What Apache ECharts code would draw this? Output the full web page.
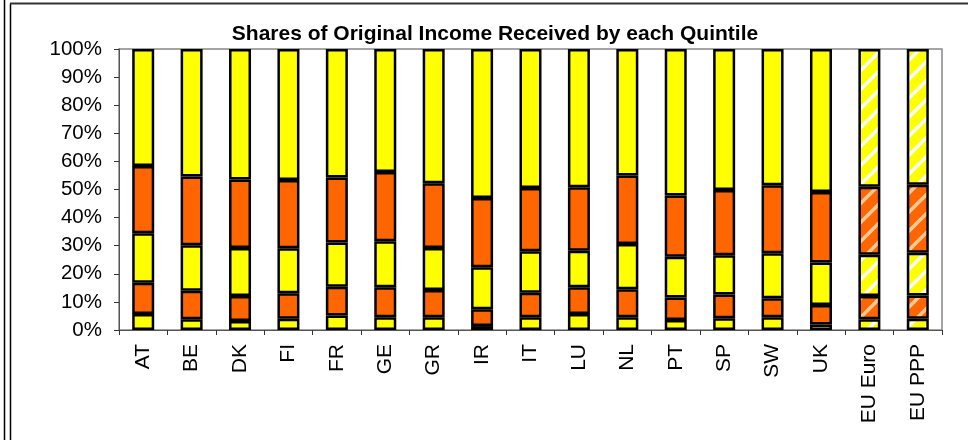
<!DOCTYPE html>
<html>
<head>
<meta charset="utf-8">
<script src="https://cdn.jsdelivr.net/npm/echarts@6/dist/echarts.min.js"></script>
<style>
  * { margin: 0; padding: 0; }
  body { background: #fff; }
  #chart { width: 968px; height: 440px; }
</style>
</head>
<body>
<div id="chart"></div>
<script>
// countries + EU aggregates
const categories = ["AT", "BE", "DK", "FI", "FR", "GE", "GR", "IR", "IT", "LU", "NL", "PT", "SP", "SW", "UK", "EU Euro", "EU PPP"];

// share of original income (%) for each quintile, bottom to top
const q1 = [5.7, 3.8, 3.2, 4.0, 5.2, 4.5, 4.5, 1.4, 4.5, 5.7, 4.5, 3.6, 4.2, 4.5, 2.0, 3.8, 4.0];
const q2 = [11.1, 10.2, 8.9, 9.1, 10.2, 10.7, 9.7, 6.0, 8.8, 9.5, 10.0, 8.0, 8.4, 6.8, 6.9, 8.3, 8.3];
const q3 = [17.6, 16.2, 17.1, 16.0, 15.7, 16.4, 15.0, 14.9, 14.7, 13.0, 16.1, 14.5, 14.0, 16.0, 15.1, 14.7, 15.2];
const q4 = [24.0, 24.4, 24.4, 24.3, 23.2, 24.6, 23.0, 24.7, 22.5, 22.6, 24.4, 21.8, 23.2, 24.2, 25.1, 24.2, 24.2];
const q5 = [41.6, 45.4, 46.4, 46.6, 45.7, 43.8, 47.8, 53.0, 49.5, 49.2, 45.0, 52.1, 50.2, 48.5, 50.9, 49.0, 48.3];

const yTicks = [0, 10, 20, 30, 40, 50, 60, 70, 80, 90, 100];

const YELLOW = "#ffff00";
const ORANGE = "#ff6600";

// hatched fill for the EU bars
function stripes(bg, fg) {
  const size = 19;
  const c = document.createElement("canvas");
  c.width = size;
  c.height = size;
  const ctx = c.getContext("2d");
  ctx.fillStyle = bg;
  ctx.fillRect(0, 0, size, size);
  ctx.strokeStyle = fg;
  ctx.lineWidth = 3.5;
  ctx.beginPath();
  ctx.moveTo(-size / 2, size / 2);
  ctx.lineTo(size / 2, -size / 2);
  ctx.moveTo(0, size);
  ctx.lineTo(size, 0);
  ctx.moveTo(size / 2, size * 1.5);
  ctx.lineTo(size * 1.5, size / 2);
  ctx.stroke();
  return { image: c, repeat: "repeat" };
}

const hatch = {};
hatch[YELLOW] = stripes(YELLOW, "#ffffff");
hatch[ORANGE] = stripes(ORANGE, "#ffc896");

function makeSeries(name, values, color) {
  return {
    name: name,
    type: "bar",
    stack: "total",
    barWidth: 22,
    itemStyle: { color: color, borderColor: "#000", borderWidth: 2.5 },
    data: values.map((v, i) =>
      categories[i].indexOf("EU") === 0
        ? { value: v, itemStyle: { color: hatch[color] } }
        : v
    ),
  };
}

const myChart = echarts.init(document.getElementById("chart"));

const option = {
  animation: false,
  title: {
    text: "Shares of Original Income Received by each Quintile",
    left: 490,
    textAlign: "center",
    top: 19,
    textStyle: {
      fontFamily: "Liberation Sans",
      fontWeight: "bold",
      fontSize: 21,
      color: "#000",
    },
  },
  grid: {
    left: 119,
    right: 26,
    top: 49,
    bottom: 110,
    containLabel: false,
    show: true,
    borderColor: "#888",
    borderWidth: 1.5,
  },
  xAxis: {
    type: "category",
    data: categories,
    axisLine: { lineStyle: { color: "#555", width: 1 } },
    axisTick: { show: true, length: 5, alignWithLabel: false, lineStyle: { color: "#333" } },
    axisLabel: {
      rotate: 90,
      margin: 14,
      fontFamily: "Liberation Sans",
      fontSize: 21,
      color: "#000",
      interval: 0,
    },
  },
  yAxis: {
    type: "value",
    min: yTicks[0],
    max: yTicks[yTicks.length - 1],
    interval: 10,
    splitLine: { show: false },
    axisLine: { show: true, lineStyle: { color: "#555", width: 1 } },
    axisTick: { show: true, length: 5, lineStyle: { color: "#333" } },
    axisLabel: {
      formatter: "{value}%",
      margin: 17,
      fontFamily: "Liberation Sans",
      fontSize: 20.5,
      color: "#000",
    },
  },
  series: [
    makeSeries("Q1", q1, YELLOW),
    makeSeries("Q2", q2, ORANGE),
    makeSeries("Q3", q3, YELLOW),
    makeSeries("Q4", q4, ORANGE),
    makeSeries("Q5", q5, YELLOW),
  ],
  graphic: [
    // outer frame lines of the original sheet
    { type: "line", shape: { x1: 4.5, y1: 0, x2: 4.5, y2: 440 }, style: { stroke: "#000", lineWidth: 1.5 } },
    { type: "line", shape: { x1: 10.5, y1: 3.5, x2: 10.5, y2: 440 }, style: { stroke: "#000", lineWidth: 1.5 } },
    { type: "line", shape: { x1: 10, y1: 3.5, x2: 968, y2: 3.5 }, style: { stroke: "#333", lineWidth: 2 } },
  ],
};

myChart.setOption(option);
</script>
</body>
</html>
